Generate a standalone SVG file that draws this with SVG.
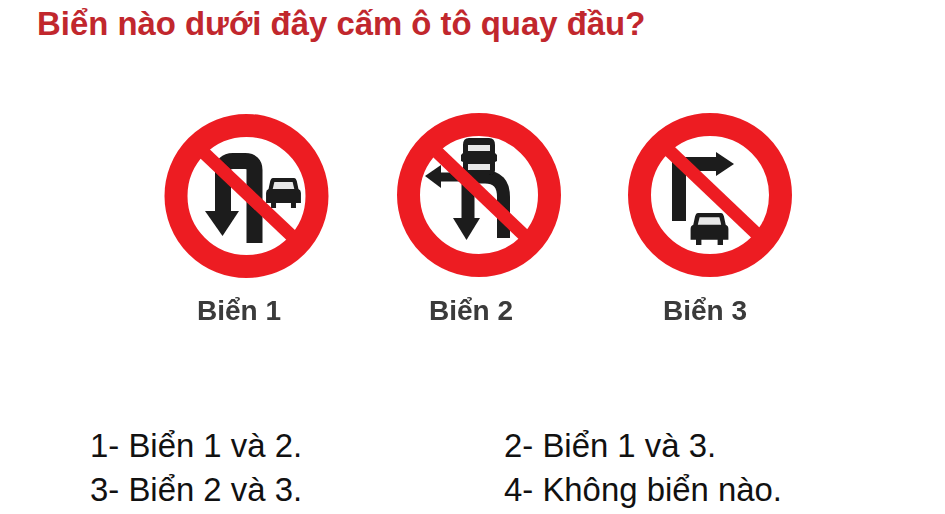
<svg xmlns="http://www.w3.org/2000/svg" width="945" height="514" viewBox="0 0 945 514">
<style>
.title{font:bold 32.900px "Liberation Sans",Arial,sans-serif;fill:#c1272d}
.opt{font:32.900px "Liberation Sans",Arial,sans-serif;fill:#111}
.lab{font:bold 28px "Liberation Sans",Arial,sans-serif;fill:#3a3a3a;text-anchor:middle}
.ring{fill:#fff;stroke:#ed1c24;stroke-width:23}
.bar{stroke:#ed1c24;stroke-width:13;fill:none}
.blk{fill:#1a1a1a}
.wht{fill:#e8e8e8}
.ln{fill:none;stroke:#1a1a1a;stroke-width:16}
</style>
<defs>
<filter id="b" filterUnits="userSpaceOnUse" x="0" y="0" width="945" height="514"><feGaussianBlur stdDeviation="0.7"/></filter>
<g id="car">
<path class="blk" d="M-13,-15 H13 Q15,-15 16,-12 L18,-4 Q21,-3 21,0 V10 H15 V15 H9 V10 H-9 V15 H-15 V10 H-21 V0 Q-21,-3 -18,-4 L-16,-12 Q-15,-15 -13,-15Z"/>
<path class="wht" d="M-11,-11 H11 L13,-4 H-13Z"/>
</g>
</defs>
<rect width="945" height="514" fill="#fff"/>
<text class="title" x="37" y="35">Biển nào dưới đây cấm ô tô quay đầu?</text>
<g id="sign1" filter="url(#b)">
<circle class="ring" cx="246.500" cy="196" r="70.500"/>
<path class="ln" d="M254.500,243 V170 Q254.500,161 245,161 H233 Q223,161 223,171 V213"/>
<path class="blk" d="M205,211 H239 L222.500,236Z"/>
<use href="#car" transform="translate(283.500,193) scale(.83,1)"/>
<path class="bar" d="M202,151 L295,239"/>
</g>
<g id="sign2" filter="url(#b)">
<circle class="ring" cx="479" cy="195" r="70.500"/>
<path class="ln" style="stroke-width:13" d="M503.500,238 V197 Q503.500,177 485,177 H475 Q468,177 468,185 V220"/>
<path class="ln" style="stroke-width:9" d="M436,177 H468"/>
<path class="blk" d="M425,176 L441,165 V188Z"/>
<path class="blk" d="M453,218 H480 L466.500,240Z"/>
<path class="blk" d="M469,138 H489 Q495,138 495,145 V153 L497,155 V161 L495,162 V170 Q495,175 489,175 H469 Q463,175 463,170 V162 L461,161 V155 L463,153 V145 Q463,138 469,138Z"/>
<rect class="wht" x="468" y="145" width="22" height="6"/>
<rect class="wht" x="468" y="164" width="22" height="6"/>
<path class="bar" d="M435,150 L527,238"/>
</g>
<g id="sign3" filter="url(#b)">
<circle class="ring" cx="710" cy="195" r="70.500"/>
<path class="blk" d="M672,157 H720 V171 H686 V221 H672Z"/>
<path class="blk" d="M716,152 L734,164 L716,176Z"/>
<use href="#car" transform="translate(709.500,229) scale(.9,1.07)"/>
<path class="bar" d="M667,148.500 L760,237"/>
</g>
<g id="labels" filter="url(#b)">
<text class="lab" x="239" y="320">Biển 1</text>
<text class="lab" x="471" y="320">Biển 2</text>
<text class="lab" x="705" y="320">Biển 3</text>
</g>
<text class="opt" x="90" y="457">1- Biển 1 và 2.</text>
<text class="opt" x="504" y="457">2- Biển 1 và 3.</text>
<text class="opt" x="90" y="501">3- Biển 2 và 3.</text>
<text class="opt" x="504" y="501">4- Không biển nào.</text>
</svg>
